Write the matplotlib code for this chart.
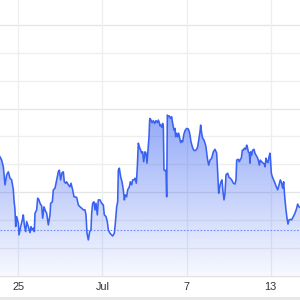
import numpy as np
import matplotlib
matplotlib.use("Agg")
import matplotlib.pyplot as plt
from matplotlib.patches import Rectangle

# Days since 25 June (00:00)
days = [-1.305, -1.186, -1.068, -0.949, -0.830, -0.711, -0.592, -0.473, -0.354, -0.307,
        -0.235, -0.188, -0.116, 0.002, 0.050, 0.169, 0.287, 0.359, 0.430, 0.526,
        0.597, 0.715, 0.835, 0.906, 1.001, 1.072, 1.143, 1.191, 1.310, 1.382,
        1.476, 1.548, 1.667, 1.738, 1.833, 1.904, 2.023, 2.142, 2.261, 2.309,
        2.427, 2.499, 2.618, 2.737, 2.855, 2.927, 3.022, 3.117, 3.212, 3.283,
        3.379, 3.450, 3.569, 3.688, 3.759, 3.878, 3.973, 4.044, 4.163, 4.282,
        4.401, 4.520, 4.638, 4.757, 4.829, 4.900, 4.995, 5.090, 5.185, 5.233,
        5.304, 5.399, 5.471, 5.542, 5.637, 5.708, 5.827, 5.946, 6.065, 6.136,
        6.255, 6.350, 6.422, 6.541, 6.660, 6.731, 6.850, 6.921, 7.016, 7.088,
        7.135, 7.206, 7.302, 7.397, 7.491, 7.563, 7.634, 7.729, 7.800, 7.919,
        7.991, 8.086, 8.157, 8.253, 8.324, 8.419, 8.490, 8.561, 8.633, 8.728,
        8.800, 8.871, 8.942, 9.037, 9.109, 9.180, 9.251, 9.322, 9.370, 9.394,
        9.465, 9.536, 9.631, 9.727, 9.822, 9.917, 9.988, 10.059, 10.107, 10.178,
        10.250, 10.297, 10.345, 10.392, 10.464, 10.535, 10.583, 10.630, 10.701, 10.773,
        10.868, 10.939, 11.011, 11.106, 11.177, 11.225, 11.296, 11.367, 11.439, 11.510,
        11.581, 11.653, 11.724, 11.795, 11.890, 12.009, 12.128, 12.223, 12.318, 12.413,
        12.508, 12.603, 12.722, 12.793, 12.865, 12.960, 13.007, 13.079, 13.150, 13.245,
        13.317, 13.388, 13.483, 13.578, 13.673, 13.792, 13.911, 14.030, 14.149, 14.220,
        14.292, 14.363, 14.458, 14.529, 14.601, 14.672, 14.743, 14.815, 14.934, 15.029,
        15.124, 15.219, 15.338, 15.457, 15.528, 15.576, 15.694, 15.766, 15.837, 15.908,
        15.980, 16.051, 16.122, 16.218, 16.289, 16.336, 16.408, 16.479, 16.526, 16.574,
        16.645, 16.717, 16.812, 16.883, 16.954, 17.050, 17.121, 17.192, 17.264, 17.359,
        17.478, 17.549, 17.596, 17.668, 17.739, 17.810, 17.882, 17.953, 18.001, 18.048,
        18.119, 18.214, 18.310, 18.405, 18.500, 18.595, 18.690, 18.785, 18.857, 18.928,
        18.976, 19.023, 19.094, 19.166, 19.237, 19.308, 19.403, 19.498, 19.617, 19.736,
        19.855, 19.926, 20.021, 20.093]

values = [42.7, 41.5, 39.1, 32.6, 36.2, 37.3, 35.0, 34.4, 30.8, 27.2,
          23.6, 17.6, 21.2, 18.8, 14.6, 17.6, 20.0, 21.8, 18.2, 15.8,
          19.4, 17.6, 15.4, 17.6, 16.4, 17.0, 15.8, 22.4, 23.6, 27.8,
          27.2, 26.0, 25.0, 20.6, 24.7, 23.6, 22.4, 18.2, 21.8, 26.0,
          26.5, 30.8, 31.4, 34.4, 37.3, 37.9, 34.4, 37.0, 37.3, 33.7,
          33.2, 33.7, 32.6, 31.9, 33.2, 30.8, 28.3, 28.3, 28.1, 25.4,
          24.7, 24.2, 23.6, 23.6, 21.8, 15.2, 12.8, 15.8, 16.4, 22.4,
          26.0, 26.5, 23.6, 26.0, 21.8, 27.2, 27.2, 26.0, 25.4, 21.8,
          21.2, 19.4, 16.4, 15.2, 14.6, 14.2, 15.2, 18.8, 24.7, 26.5,
          37.9, 38.6, 35.5, 33.7, 30.8, 27.2, 29.0, 28.3, 30.8, 31.9,
          33.7, 32.6, 34.4, 34.4, 35.0, 33.2, 39.1, 47.6, 46.3, 45.1,
          44.0, 44.5, 40.9, 44.5, 44.0, 40.4, 45.1, 49.9, 55.9, 56.5,
          55.9, 55.0, 55.7, 54.7, 55.7, 55.0, 55.9, 55.0, 53.8, 54.1,
          53.3, 54.7, 53.5, 37.9, 37.7, 37.9, 28.3, 57.7, 57.1, 57.4,
          56.5, 57.1, 54.7, 52.3, 52.9, 49.9, 51.2, 49.9, 51.2, 49.4,
          47.8, 48.5, 48.1, 50.5, 52.1, 52.9, 52.7, 51.2, 48.1, 46.3,
          45.1, 44.9, 45.4, 46.3, 48.7, 51.7, 54.1, 51.2, 49.4, 48.7,
          47.6, 46.3, 42.2, 39.7, 41.5, 42.2, 44.5, 45.4, 44.0, 37.3,
          29.6, 31.9, 33.7, 34.4, 30.1, 27.2, 29.6, 36.2, 36.8, 35.3,
          35.0, 34.4, 33.2, 32.9, 34.4, 41.5, 41.8, 40.9, 41.8, 42.2,
          45.1, 45.1, 45.8, 45.4, 46.9, 46.3, 44.5, 44.0, 40.4, 44.5,
          43.3, 45.1, 45.4, 44.0, 43.3, 42.5, 41.5, 39.7, 41.5, 40.9,
          40.4, 40.1, 39.1, 42.2, 40.9, 40.6, 42.7, 44.0, 40.9, 36.8,
          35.5, 34.4, 33.2, 31.9, 30.8, 32.6, 34.4, 33.2, 31.4, 33.7,
          30.1, 27.2, 23.6, 20.6, 18.5, 20.0, 20.2, 20.0, 21.2, 22.4,
          24.2, 25.7, 24.7, 24.5]

tick_days = [0, 6, 12, 18]
tick_labels = ["25", "Jul", "7", "13"]
ref_level = 16.4

line_color = "#3a62f2"

fig = plt.figure(figsize=(3, 3), dpi=100)
fig.patch.set_facecolor("white")
ax = fig.add_axes([0, 24.5 / 300, 1, 275.5 / 300])
ax.set_xlim(-1.305, 20.093)
ax.set_ylim(0, 99.1)

# grid
for k, yv in enumerate(range(10, 100, 10)):
    col = "#e4e4e4" if yv in (30, 60, 90) else "#eeeeee"
    ax.axhline(yv, color=col, lw=0.9, zorder=0)
for d in tick_days:
    ax.axvline(d, color="#ebeff0", lw=0.9, zorder=0)

x = np.array(days)
y = np.array(values)

# gradient fill
poly = ax.fill_between(x, y, 0, facecolor="none", edgecolor="none")
ymax = y.max()
n = 256
grad = np.zeros((n, 1, 4))
rgb = matplotlib.colors.to_rgb(line_color)
grad[:, 0, 0:3] = rgb
grad[:, 0, 3] = np.linspace(0.55, 0.04, n)
im = ax.imshow(grad, aspect="auto", extent=[x.min(), x.max(), 0, ymax],
               origin="upper", zorder=1, interpolation="bilinear")
path = poly.get_paths()[0]
im.set_clip_path(path, transform=ax.transData)

ax.plot(x, y, color=line_color, lw=1.15, zorder=3, solid_joinstyle="round")
ax.axhline(ref_level, color="#7090f5", lw=0.8, ls=(0, (1.5, 1.5)), zorder=2)

for s in ["top", "left", "right"]:
    ax.spines[s].set_visible(False)
ax.spines["bottom"].set_color("#e2e2e2")
ax.spines["bottom"].set_linewidth(1.0)
ax.set_yticks([])
ax.set_xticks(tick_days)
ax.set_xticklabels(tick_labels, fontsize=7.8, color="#333333", family="Liberation Sans")
ax.tick_params(axis="x", length=0, pad=4.8)

fig.patches.append(Rectangle((0, 0), 1, 3.3 / 300, transform=fig.transFigure,
                             facecolor="#e8e8e8", edgecolor="none"))

fig.savefig("out.png", dpi=100)
